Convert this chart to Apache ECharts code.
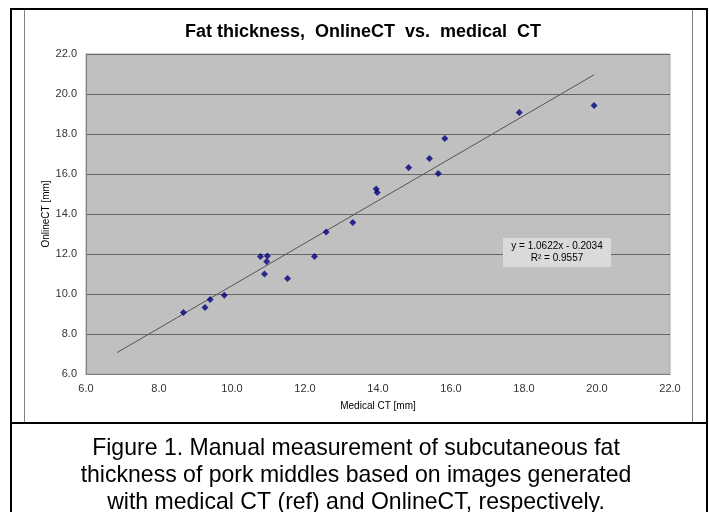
<!DOCTYPE html>
<html>
<head>
<meta charset="utf-8">
<script src="https://cdn.jsdelivr.net/npm/echarts@6/dist/echarts.min.js"></script>
<style>
  html, body { margin: 0; padding: 0; background: #fff; }
  #fat-chart { width: 709px; height: 512px; }
</style>
</head>
<body>
<div id="fat-chart"></div>
<script>
// medical CT [mm] vs OnlineCT [mm]
const medicalCT = [8.67, 9.26, 9.40, 9.79, 10.78, 10.89, 10.95, 10.97, 11.52, 12.26,
  12.58, 13.31, 13.95, 13.98, 14.84, 15.41, 15.65, 15.83, 17.87, 19.92];
const onlineCT = [9.08, 9.33, 9.72, 9.94, 11.87, 11.00, 11.62, 11.90, 10.77, 11.87,
  13.10, 13.57, 15.25, 15.08, 16.32, 16.77, 16.02, 17.77, 19.08, 19.42];
// linear trendline ends as drawn
const trendX = [6.85, 19.92];
const trendY = [7.07, 20.96];
const trendText = ['y = 1.0622x - 0.2034', 'R² = 0.9557'];
const captionLines = [
  'Figure 1. Manual measurement of subcutaneous fat',
  'thickness of pork middles based on images generated',
  'with medical CT (ref) and OnlineCT, respectively.',
];

const points = medicalCT.map((x, i) => [x, onlineCT[i]]);
const trend = trendX.map((x, i) => [x, trendY[i]]);

const myChart = echarts.init(document.getElementById('fat-chart'));
const font = 'Arial, "Liberation Sans", sans-serif';
const options = {
  animation: false,
  textStyle: { fontFamily: font },
  title: {
    text: 'Fat thickness,  OnlineCT  vs.  medical  CT',
    left: 180,
    top: 18,
    textStyle: { fontSize: 18, fontWeight: 'bold', color: '#000', fontFamily: font },
  },
  grid: { left: 86, top: 54, width: 584, height: 320, show: true, backgroundColor: '#c0c0c0', borderColor: '#a8a8a8', borderWidth: 1 },
  xAxis: {
    type: 'value',
    min: 6,
    max: 22,
    interval: 2,
    name: 'Medical CT [mm]',
    nameLocation: 'middle',
    nameGap: 27,
    nameMoveOverlap: false,
    nameTextStyle: { fontSize: 10, color: '#000' },
    axisLine: { show: true, lineStyle: { color: '#808080' } },
    axisTick: { show: false },
    splitLine: { show: false },
    axisLabel: { fontSize: 11, color: '#333', margin: 9, formatter: (v) => v.toFixed(1) },
  },
  yAxis: {
    type: 'value',
    min: 6,
    max: 22,
    interval: 2,
    name: 'OnlineCT [mm]',
    nameLocation: 'middle',
    nameGap: 35,
    nameMoveOverlap: false,
    nameTextStyle: { fontSize: 10, color: '#000' },
    axisLine: { show: true, lineStyle: { color: '#808080' } },
    axisTick: { show: false },
    splitLine: { show: true, lineStyle: { color: '#666', width: 1 } },
    axisLabel: { fontSize: 11, color: '#333', margin: 9, formatter: (v) => v.toFixed(1) },
  },
  series: [
    {
      type: 'line',
      data: trend,
      symbol: 'none',
      lineStyle: { color: '#555', width: 1 },
      z: 3,
    },
    {
      type: 'scatter',
      data: points,
      symbol: 'diamond',
      symbolSize: 7,
      itemStyle: { color: '#000080' },
      z: 4,
    },
  ],
  graphic: [
    {
      type: 'rect',
      shape: { x: 503, y: 238, width: 108, height: 29 },
      style: { fill: '#dadada', stroke: null },
      z: 10,
    },
    {
      type: 'text',
      x: 557,
      y: 252.5,
      style: { text: trendText.join('\n'), fontSize: 10, fontFamily: font, fill: '#000', align: 'center', verticalAlign: 'middle', lineHeight: 12 },
      z: 11,
    },
    {
      type: 'rect',
      shape: { x: 24.5, y: 9.5, width: 668, height: 413 },
      style: { fill: null, stroke: '#808080', lineWidth: 1 },
      z: 1,
    },
    {
      type: 'rect',
      shape: { x: 11, y: 9, width: 696, height: 510 },
      style: { fill: null, stroke: '#000', lineWidth: 2 },
      z: 2,
    },
    {
      type: 'line',
      shape: { x1: 11, y1: 423, x2: 707, y2: 423 },
      style: { stroke: '#000', lineWidth: 2 },
      z: 2,
    },
    {
      type: 'text',
      x: 356,
      y: 475,
      scaleX: 0.96,
      style: { text: captionLines.join('\n'), fontSize: 24, fontFamily: font, fill: '#000', align: 'center', verticalAlign: 'middle', lineHeight: 27 },
      z: 2,
    },
  ],
};
myChart.setOption(options);
</script>
</body>
</html>
